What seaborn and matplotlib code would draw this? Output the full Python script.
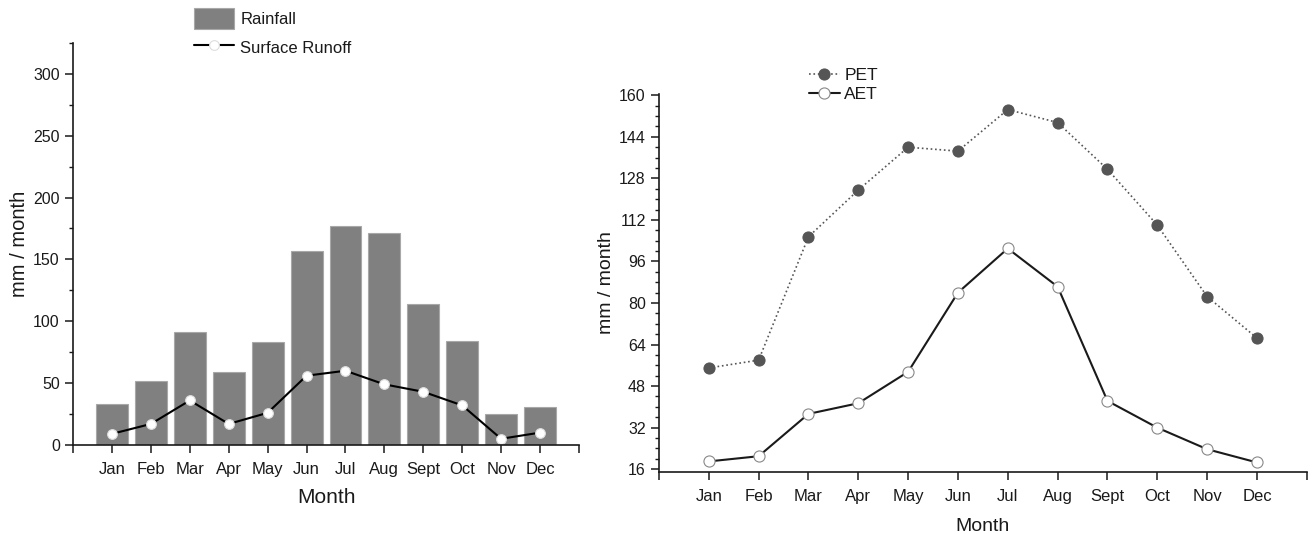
import numpy as np
import pandas as pd
import seaborn as sns
import matplotlib.pyplot as plt
from matplotlib.ticker import MultipleLocator

# Data
months = ['Jan', 'Feb', 'Mar', 'Apr', 'May', 'Jun', 'Jul', 'Aug', 'Sept', 'Oct', 'Nov', 'Dec']
rainfall = [33, 52, 91, 59, 83, 157, 177, 171, 114, 84, 25, 31]
runoff = [9, 17, 36, 17, 26, 56, 60, 49, 43, 32, 5, 10]
pet = [55, 58, 105.5, 123.5, 140, 138.5, 154.5, 149.5, 131.5, 110, 82.5, 66.5]
aet = [19, 21, 37.3, 41.4, 53.5, 84, 101, 86.3, 42.3, 32, 23.7, 18.6]

df = pd.DataFrame({'month': months, 'pos': np.arange(len(months)),
                   'rainfall': rainfall, 'runoff': runoff, 'pet': pet, 'aet': aet})

sns.set_style('ticks')
plt.rcParams['font.family'] = ['Liberation Sans', 'DejaVu Sans']
plt.rcParams['text.color'] = '#1a1a1a'
plt.rcParams['axes.labelcolor'] = '#1a1a1a'
plt.rcParams['xtick.color'] = '#1a1a1a'
plt.rcParams['ytick.color'] = '#1a1a1a'

fig = plt.figure(figsize=(13.14, 5.34), dpi=100)
ax1 = fig.add_axes([0.0556, 0.1667, 0.385, 0.753])
ax2 = fig.add_axes([0.5015, 0.116, 0.493, 0.708])

# Left panel: rainfall bars + surface runoff line
sns.barplot(data=df, x='month', y='rainfall', ax=ax1, color='#808080', saturation=1,
            width=0.82, edgecolor='#a8a8a8', linewidth=0.8, label='Rainfall')
sns.lineplot(data=df, x='pos', y='runoff', ax=ax1, color='black', linewidth=1.5,
             marker='o', markersize=7, markerfacecolor='white', markeredgecolor='#dddddd',
             markeredgewidth=0.8, label='Surface Runoff')
ax1.set_ylim(0, 325)
ax1.yaxis.set_major_locator(MultipleLocator(50))
ax1.yaxis.set_minor_locator(MultipleLocator(25))
ax1.set_ylabel('mm / month', fontsize=14.5, labelpad=3)
ax1.set_xlabel('Month', fontsize=15, labelpad=8)

# Right panel: PET and AET lines
sns.lineplot(data=df, x='pos', y='pet', ax=ax2, color='#555555', linewidth=1.2,
             linestyle=':', marker='o', markersize=8, markerfacecolor='#555555',
             markeredgecolor='#555555', label='PET')
sns.lineplot(data=df, x='pos', y='aet', ax=ax2, color='#1a1a1a', linewidth=1.5,
             marker='o', markersize=8, markerfacecolor='white', markeredgecolor='#888888',
             markeredgewidth=0.8, label='AET')
ax2.set_ylim(14.9, 160.5)
ax2.set_yticks(np.arange(16, 161, 16))
ax2.yaxis.set_minor_locator(MultipleLocator(4))
ax2.set_ylabel('mm / month', fontsize=14, labelpad=3)
ax2.set_xlabel('Month', fontsize=14, labelpad=10)

for ax in (ax1, ax2):
    ax.set_xlim(-1, 12)
    ax.set_xticks(np.arange(-1, 13))
    ax.set_xticklabels([''] + months + [''])
    ax.tick_params(axis='x', which='major', labelsize=12, length=6, width=1.1, pad=6)
    ax.tick_params(axis='y', which='major', labelsize=11.5, length=6, width=1.1)
    ax.tick_params(axis='y', which='minor', length=3, width=1)
    sns.despine(ax=ax)
    for s in ('left', 'bottom'):
        ax.spines[s].set_linewidth(1.2)
        ax.spines[s].set_color('#1a1a1a')

# legend order: Rainfall first, then Surface Runoff
h, l = ax1.get_legend_handles_labels()
order = [l.index('Rainfall'), l.index('Surface Runoff')]
ax1.legend([h[i] for i in order], [l[i] for i in order],
           loc='upper left', bbox_to_anchor=(186 / 1314, 1 - 0 / 534),
           bbox_transform=fig.transFigure, frameon=False, fontsize=12,
           handlelength=2.4, handleheight=1.5, labelspacing=0.5, handletextpad=0.35,
           borderpad=0)
ax2.legend(loc='upper left', bbox_to_anchor=(800 / 1314, 1 - 59 / 534),
           bbox_transform=fig.transFigure, frameon=False, fontsize=12.5,
           handlelength=1.8, labelspacing=0.25, handletextpad=0.25, borderpad=0)

fig.savefig('out.png', dpi=100)
